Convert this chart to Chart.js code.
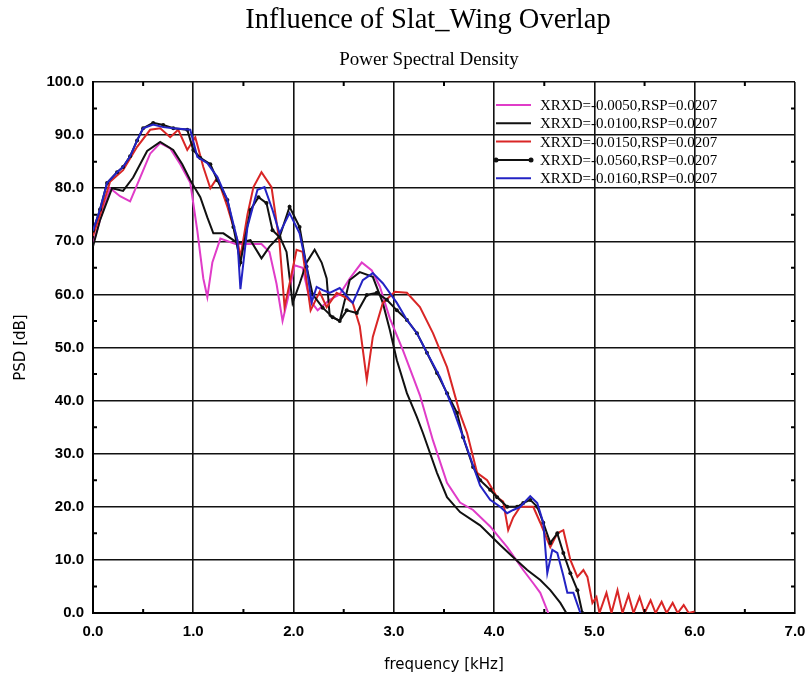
<!DOCTYPE html>
<html>
<head>
<meta charset="utf-8">
<title>Influence of Slat_Wing Overlap</title>
<script src="https://cdn.jsdelivr.net/npm/chart.js@4.4.1/dist/chart.umd.min.js"></script>
<style>
  html, body { margin: 0; padding: 0; background: #fff; }
  #wrap { width: 809px; height: 677px; }
</style>
</head>
<body>
<div id="wrap"><canvas id="psdChart" width="809" height="677"></canvas></div>
<script>
// Headings
const mainTitle = 'Influence of Slat_Wing Overlap';
const subTitle = 'Power Spectral Density';

// Series labels
const seriesLabels = [
    'XRXD=-0.0050,RSP=0.0207',
    'XRXD=-0.0100,RSP=0.0207',
    'XRXD=-0.0150,RSP=0.0207',
    'XRXD=-0.0560,RSP=0.0207',
    'XRXD=-0.0160,RSP=0.0207'
];

// frequency [kHz] / PSD [dB] samples for each overlap case
const freq0050 = [0.00, 0.07, 0.17, 0.27, 0.37, 0.47, 0.57, 0.67, 0.77, 0.87, 0.97, 1.04, 1.10, 1.14, 1.19, 1.27, 1.42, 1.57, 1.68, 1.76, 1.83, 1.89, 1.94, 2.01, 2.09, 2.16, 2.24, 2.36, 2.46, 2.56, 2.68, 2.78, 2.86, 2.96, 3.09, 3.19, 3.26, 3.39, 3.53, 3.66, 3.79, 3.96, 4.13, 4.29, 4.39, 4.46, 4.54];
const psd0050  = [69.5, 74.0, 80.0, 78.5, 77.5, 82.0, 86.5, 88.5, 87.5, 84.5, 81.0, 72.0, 63.0, 59.5, 66.0, 70.5, 69.5, 69.5, 69.5, 68.0, 62.0, 55.0, 59.0, 65.5, 65.0, 59.0, 57.0, 59.0, 60.0, 63.0, 66.0, 64.5, 61.5, 55.5, 49.5, 44.5, 41.0, 32.5, 24.5, 20.8, 19.4, 16.3, 12.4, 8.1, 5.6, 3.8, 0.0];

const freq0100 = [0.00, 0.07, 0.19, 0.30, 0.40, 0.54, 0.67, 0.80, 0.89, 0.97, 1.07, 1.14, 1.20, 1.30, 1.44, 1.57, 1.68, 1.76, 1.86, 1.93, 1.99, 2.06, 2.13, 2.21, 2.28, 2.33, 2.36, 2.46, 2.56, 2.66, 2.79, 2.89, 2.96, 3.03, 3.13, 3.23, 3.29, 3.43, 3.53, 3.66, 3.86, 4.06, 4.19, 4.33, 4.46, 4.56, 4.66, 4.72];
const psd0100  = [69.0, 74.0, 80.0, 79.5, 82.0, 87.0, 88.7, 87.2, 84.5, 81.5, 78.3, 74.5, 71.5, 71.5, 69.7, 70.2, 66.8, 69.0, 71.0, 68.0, 58.4, 62.0, 66.0, 68.4, 66.0, 63.0, 56.0, 55.0, 62.7, 64.2, 63.3, 58.4, 53.3, 47.6, 41.4, 36.9, 33.9, 26.4, 21.8, 19.0, 16.5, 12.8, 10.5, 8.1, 6.2, 4.3, 1.9, 0.0];

const freq0150 = [0.00, 0.07, 0.17, 0.30, 0.44, 0.57, 0.67, 0.77, 0.85, 0.94, 1.02, 1.10, 1.17, 1.24, 1.34, 1.44, 1.47, 1.54, 1.60, 1.68, 1.78, 1.86, 1.91, 1.96, 2.03, 2.09, 2.17, 2.26, 2.33, 2.43, 2.51, 2.59, 2.66, 2.73, 2.79, 2.89, 3.01, 3.13, 3.26, 3.39, 3.53, 3.66, 3.73, 3.83, 3.93, 4.03, 4.09, 4.14, 4.19, 4.26, 4.39, 4.46, 4.56, 4.63, 4.69, 4.76, 4.83, 4.89, 4.93, 4.98, 5.02, 5.05, 5.12, 5.17, 5.23, 5.28, 5.34, 5.39, 5.45, 5.50, 5.56, 5.61, 5.67, 5.72, 5.78, 5.83, 5.89, 5.94, 6.00];
const psd0150  = [71.0, 75.0, 81.2, 83.4, 87.8, 91.0, 91.3, 89.6, 91.0, 87.2, 89.6, 84.0, 80.0, 82.0, 76.5, 70.2, 67.0, 75.0, 80.2, 83.0, 80.2, 69.7, 57.6, 62.0, 68.4, 68.0, 57.0, 60.5, 57.6, 60.3, 59.5, 58.4, 54.0, 43.9, 52.0, 58.4, 60.5, 60.3, 57.6, 52.7, 46.3, 37.5, 33.9, 26.4, 25.0, 21.8, 21.0, 15.6, 18.0, 20.0, 20.0, 17.0, 12.4, 15.0, 15.6, 10.0, 6.8, 8.1, 6.8, 1.9, 3.0, 0.0, 3.8, 0.0, 4.3, 0.0, 3.4, 0.0, 3.0, 0.0, 2.4, 0.0, 2.1, 0.0, 1.9, 0.0, 1.5, 0.0, 0.3];

const freq0560 = [0.00, 0.07, 0.14, 0.24, 0.30, 0.37, 0.44, 0.50, 0.60, 0.70, 0.80, 0.94, 1.00, 1.07, 1.17, 1.24, 1.34, 1.40, 1.47, 1.57, 1.65, 1.73, 1.79, 1.86, 1.96, 2.06, 2.13, 2.19, 2.29, 2.39, 2.46, 2.53, 2.63, 2.73, 2.83, 2.93, 3.03, 3.13, 3.23, 3.33, 3.43, 3.53, 3.63, 3.69, 3.79, 3.86, 3.96, 4.03, 4.13, 4.23, 4.29, 4.36, 4.43, 4.49, 4.56, 4.63, 4.69, 4.76, 4.83, 4.88];
const psd0560  = [72.0, 76.0, 81.0, 83.0, 84.0, 86.0, 89.0, 91.3, 92.3, 91.9, 91.3, 91.0, 87.2, 85.7, 84.5, 81.5, 77.8, 72.7, 66.0, 75.9, 78.3, 77.2, 72.1, 70.8, 76.5, 72.7, 65.2, 60.0, 57.5, 55.7, 55.0, 57.0, 56.5, 59.9, 60.3, 59.0, 57.0, 55.2, 52.7, 49.0, 45.2, 41.4, 37.7, 33.1, 27.5, 25.0, 23.2, 21.8, 20.0, 20.0, 20.7, 21.3, 20.0, 17.0, 13.2, 15.0, 11.3, 7.5, 4.3, 0.0];

const freq0160 = [0.00, 0.07, 0.14, 0.24, 0.30, 0.37, 0.44, 0.50, 0.60, 0.70, 0.80, 0.97, 1.04, 1.14, 1.24, 1.34, 1.44, 1.47, 1.54, 1.64, 1.71, 1.79, 1.86, 1.96, 2.06, 2.13, 2.18, 2.23, 2.29, 2.36, 2.46, 2.59, 2.69, 2.79, 2.89, 3.03, 3.13, 3.23, 3.33, 3.46, 3.59, 3.76, 3.86, 3.96, 4.06, 4.13, 4.19, 4.26, 4.36, 4.43, 4.49, 4.53, 4.58, 4.63, 4.69, 4.73, 4.79, 4.86];
const psd0160  = [72.0, 76.0, 81.0, 83.0, 84.0, 86.0, 89.0, 91.3, 92.0, 91.5, 91.3, 91.0, 85.9, 84.7, 82.1, 77.8, 70.2, 61.0, 72.7, 79.7, 80.2, 75.9, 71.5, 75.3, 71.5, 65.2, 58.5, 61.4, 60.8, 60.3, 61.2, 58.4, 62.7, 64.0, 62.1, 58.4, 55.2, 52.7, 49.0, 44.4, 38.5, 29.4, 24.0, 21.3, 20.0, 18.8, 19.4, 20.0, 22.0, 20.7, 17.0, 7.5, 11.9, 11.3, 7.0, 3.8, 3.8, 0.0];

// Axis ranges and tick steps
const freqRange = [0, 7];
const psdRange = [0, 100];
const freqStep = 1;
const psdStep = 10;

function pairs(xs, ys) {
    return xs.map((x, i) => ({ x: x, y: ys[i] }));
}

const lineColors = ['#e03cc8', '#111111', '#d92626', '#111111', '#2323c4'];
const seriesData = [
    pairs(freq0050, psd0050),
    pairs(freq0100, psd0100),
    pairs(freq0150, psd0150),
    pairs(freq0560, psd0560),
    pairs(freq0160, psd0160)
];

const serifFont = '"Liberation Serif", "Times New Roman", serif';

// Title and subtitle, centred a bit right of the canvas middle
const headings = {
    id: 'headings',
    afterDraw(chart) {
        const ctx = chart.ctx;
        ctx.save();
        ctx.fillStyle = '#000';
        ctx.textAlign = 'center';
        ctx.textBaseline = 'middle';
        ctx.font = '28.5px ' + serifFont;
        ctx.fillText(mainTitle, 428, 21);
        ctx.font = '19px ' + serifFont;
        ctx.fillText(subTitle, 429, 60);
        ctx.restore();
    }
};

// Small inside tick marks at the half steps
const minorTicks = {
    id: 'minorTicks',
    afterDatasetsDraw(chart) {
        const { ctx, chartArea: a, scales: { x, y } } = chart;
        ctx.save();
        ctx.strokeStyle = '#000';
        ctx.lineWidth = 2;
        ctx.beginPath();
        for (let f = freqRange[0] + freqStep / 2; f < freqRange[1]; f += freqStep) {
            const px = x.getPixelForValue(f);
            ctx.moveTo(px, a.bottom); ctx.lineTo(px, a.bottom - 4);
            ctx.moveTo(px, a.top); ctx.lineTo(px, a.top + 4);
        }
        for (let v = psdRange[0] + psdStep / 2; v < psdRange[1]; v += psdStep) {
            const py = y.getPixelForValue(v);
            ctx.moveTo(a.left, py); ctx.lineTo(a.left + 4, py);
            ctx.moveTo(a.right, py); ctx.lineTo(a.right - 4, py);
        }
        ctx.stroke();
        ctx.restore();
    }
};

// Legend drawn inside the plot, top right, without a box
const insideLegend = {
    id: 'insideLegend',
    afterDatasetsDraw(chart) {
        const { ctx, chartArea: a } = chart;
        const x0 = a.right - 299;
        const y0 = a.top + 23;
        const rowH = 18.3;
        ctx.save();
        ctx.font = '15px ' + serifFont;
        ctx.textBaseline = 'middle';
        ctx.textAlign = 'left';
        chart.data.datasets.forEach((ds, i) => {
            const yy = y0 + i * rowH;
            ctx.strokeStyle = ds.borderColor;
            ctx.lineWidth = 2;
            ctx.beginPath();
            ctx.moveTo(x0, yy);
            ctx.lineTo(x0 + 35, yy);
            ctx.stroke();
            if (ds.pointRadius > 0) {
                ctx.fillStyle = ds.borderColor;
                [x0, x0 + 35].forEach(px => {
                    ctx.beginPath();
                    ctx.arc(px, yy, 2.5, 0, Math.PI * 2);
                    ctx.fill();
                });
            }
            ctx.fillStyle = '#000';
            ctx.fillText(ds.label, x0 + 44, yy + 1);
        });
        ctx.restore();
    }
};

const order = [5, 4, 3, 2, 1];

new Chart(document.getElementById('psdChart'), {
    type: 'line',
    data: {
        datasets: seriesLabels.map((label, i) => ({
            label: label,
            data: seriesData[i],
            borderColor: lineColors[i],
            backgroundColor: lineColors[i],
            borderWidth: 2,
            tension: 0,
            pointRadius: i === 3 ? 2 : 0,
            pointBackgroundColor: lineColors[i],
            pointBorderWidth: 0,
            order: order[i]
        }))
    },
    options: {
        responsive: false,
        animation: false,
        events: [],
        layout: { padding: { left: 0, right: 14, top: 82, bottom: 0 } },
        plugins: {
            legend: { display: false },
            tooltip: { enabled: false },
            title: { display: false },
            subtitle: { display: false }
        },
        scales: {
            x: {
                type: 'linear',
                min: freqRange[0],
                max: freqRange[1],
                ticks: {
                    stepSize: freqStep,
                    color: '#000',
                    padding: 10,
                    maxRotation: 0,
                    font: { family: '"Liberation Sans", Arial, sans-serif', size: 15, weight: 'bold' },
                    callback: v => v.toFixed(1)
                },
                grid: { color: '#111', lineWidth: 1.6, drawTicks: false },
                border: { color: '#000', width: 2 },
                title: {
                    display: true,
                    text: 'frequency [kHz]',
                    color: '#000',
                    font: { family: '"DejaVu Sans", sans-serif', size: 15 },
                    padding: { top: 6, bottom: 3 }
                },
                afterFit(scale) {
                    scale.height = 64;
                    scale.paddingLeft = 0;
                    scale.paddingRight = 0;
                }
            },
            y: {
                min: psdRange[0],
                max: psdRange[1],
                ticks: {
                    stepSize: psdStep,
                    color: '#000',
                    padding: 9,
                    font: { family: '"Liberation Sans", Arial, sans-serif', size: 15, weight: 'bold' },
                    callback: v => v.toFixed(1)
                },
                grid: { color: '#111', lineWidth: 1.6, drawTicks: false },
                border: { color: '#000', width: 2 },
                title: {
                    display: true,
                    text: 'PSD [dB]',
                    color: '#000',
                    font: { family: '"DejaVu Sans", sans-serif', size: 15 },
                    padding: { top: 12, bottom: 4 }
                },
                afterFit(scale) { scale.width = 93; }
            }
        }
    },
    plugins: [headings, minorTicks, insideLegend]
});
</script>
</body>
</html>
